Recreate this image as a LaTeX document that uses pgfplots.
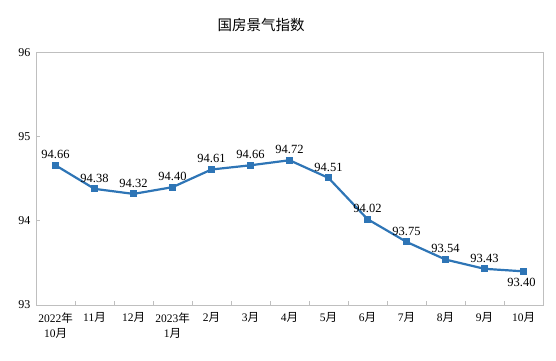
\documentclass[border=0pt]{standalone}
\usepackage{fontspec}
\setmainfont{Liberation Serif}
\newfontfamily\cjk{Noto Sans CJK SC}
\usepackage{pgfplots}
\pgfplotsset{compat=1.18}
\definecolor{lineblue}{RGB}{46,117,182}
\definecolor{framegray}{RGB}{191,191,191}
\newcommand{\yue}{{\cjk 月}}
\newcommand{\nian}{{\cjk 年}}
\begin{document}
\begin{tikzpicture}
\path[use as bounding box] (0pt,0pt) rectangle (556pt,360pt);
\node[font=\cjk\fontsize{14.5}{16}\selectfont] at (261pt,335pt) {国房景气指数};
\begin{axis}[
  at={(36pt,55pt)}, anchor=south west,
  scale only axis, width=507pt, height=252.5pt,
  xmin=-0.5, xmax=12.5, ymin=93, ymax=96,
  axis line style={framegray, line width=0.8pt},
  xtick={0,...,12},
  xticklabels={2022\nian\\10\yue, 11\yue, 12\yue, 2023\nian\\1\yue, 2\yue, 3\yue, 4\yue, 5\yue, 6\yue, 7\yue, 8\yue, 9\yue, 10\yue},
  xticklabel style={align=center, font=\fontsize{11.5}{15}\selectfont, yshift=-4pt},
  major x tick style={draw=none},
  minor xtick={0.5,1.5,...,11.5},
  minor x tick style={framegray, line width=0.8pt},
  minor tick length=4pt,
  ytick={93,94,95,96},
  yticklabel style={font=\fontsize{12}{14}\selectfont, xshift=-2pt},
  y tick style={framegray, line width=0.8pt},
  major tick length=4pt,
  tick align=inside,
  xtick pos=bottom, ytick pos=left,
  /pgf/number format/assume math mode=true,
  clip=false,
]
\addplot[lineblue, line width=2.2pt, mark=square*, mark size=2.4pt, mark options={solid}] coordinates {
(0,94.66) (1,94.38) (2,94.32) (3,94.40) (4,94.61) (5,94.66) (6,94.72) (7,94.51) (8,94.02) (9,93.75) (10,93.54) (11,93.43) (12,93.40)};
\addplot[draw=none, mark=none, nodes near coords, point meta=explicit symbolic,
  every node near coord/.append style={font=\fontsize{12.5}{14}\selectfont, anchor=south, yshift=3pt}] coordinates {
(0,94.66) [94.66] (1,94.38) [94.38] (2,94.32) [94.32] (3,94.40) [94.40] (4,94.61) [94.61] (5,94.66) [94.66] (6,94.72) [94.72] (7,94.51) [94.51] (8,94.02) [94.02] (9,93.75) [93.75] (10,93.54) [93.54] (11,93.43) [93.43]};
\addplot[draw=none, mark=none, nodes near coords, point meta=explicit symbolic,
  every node near coord/.append style={font=\fontsize{12.5}{14}\selectfont, anchor=north, yshift=-3pt, xshift=-2pt}] coordinates {
(12,93.40) [93.40]};
\end{axis}
\end{tikzpicture}
\end{document}
